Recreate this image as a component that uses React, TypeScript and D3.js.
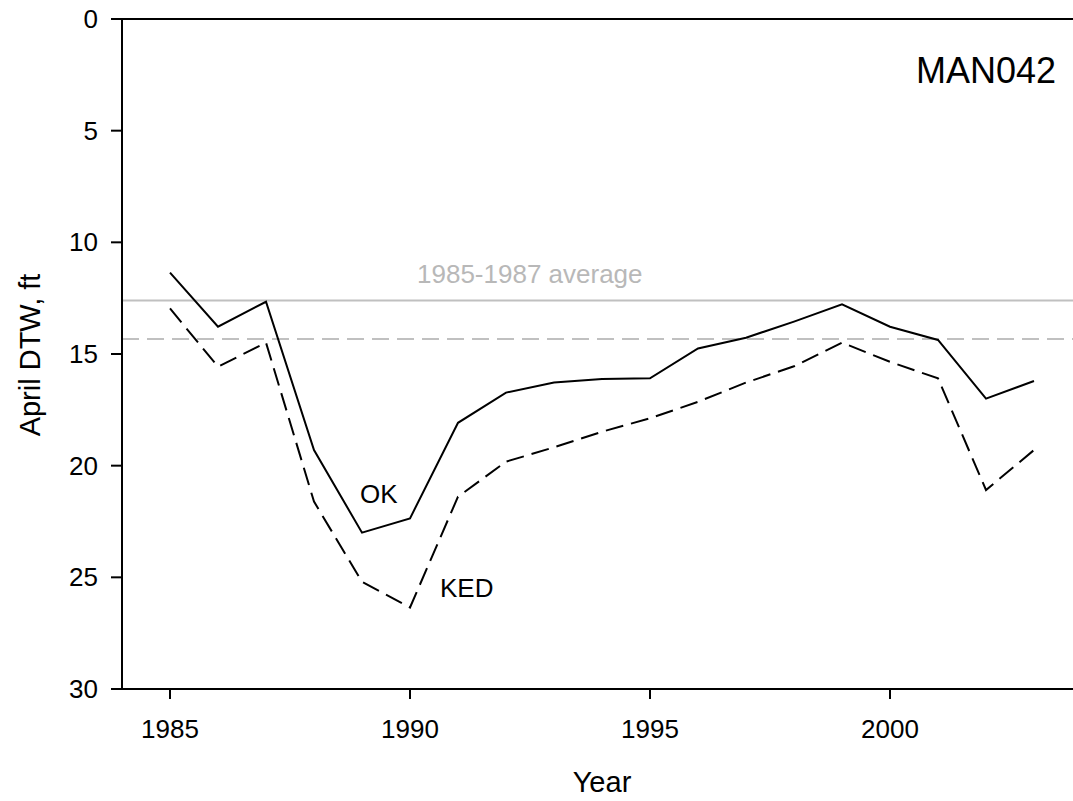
import React, { useEffect, useRef } from "react";
import * as d3 from "d3";

const years = [1985, 1986, 1987, 1988, 1989, 1990, 1991, 1992, 1993, 1994, 1995, 1996, 1997, 1998, 1999, 2000, 2001, 2002, 2003];
const okValues = [11.36, 13.78, 12.66, 19.3, 23.0, 22.36, 18.08, 16.73, 16.28, 16.12, 16.09, 14.75, 14.27, 13.55, 12.78, 13.78, 14.37, 17.0, 16.21];
const kedValues = [12.96, 15.57, 14.49, 21.61, 25.2, 26.35, 21.39, 19.82, 19.18, 18.48, 17.88, 17.14, 16.28, 15.55, 14.49, 15.35, 16.09, 21.09, 19.3];
const okAverage = 12.61;
const kedAverage = 14.33;
const xTicks = [1985, 1990, 1995, 2000];
const yTicks = [0, 5, 10, 15, 20, 25, 30];

const W = 1073;
const H = 801;
const FONT = "Liberation Sans, Arial, sans-serif";

export default function App() {
  const ref = useRef<SVGSVGElement>(null);

  useEffect(() => {
    const svg = d3.select(ref.current);
    svg.selectAll("*").remove();

    const x = d3.scaleLinear().domain([1984, 2004]).range([122, 1082]);
    const y = d3.scaleLinear().domain([0, 30]).range([19, 689]);

    // reference lines
    svg.append("line")
      .attr("x1", x(1984)).attr("x2", W)
      .attr("y1", y(okAverage)).attr("y2", y(okAverage))
      .attr("stroke", "#c0c0c0").attr("stroke-width", 2);
    svg.append("line")
      .attr("x1", x(1984)).attr("x2", W)
      .attr("y1", y(kedAverage)).attr("y2", y(kedAverage))
      .attr("stroke", "#c0c0c0").attr("stroke-width", 2)
      .attr("stroke-dasharray", "17,8");

    svg.append("text")
      .attr("x", 417).attr("y", 283)
      .attr("font-family", FONT).attr("font-size", 26)
      .attr("fill", "#b8b8b8")
      .text("1985-1987 average");

    const line = d3.line<number>()
      .x((_, i) => x(years[i]))
      .y((d) => y(d));

    svg.append("path")
      .attr("d", line(okValues) as string)
      .attr("fill", "none").attr("stroke", "#000").attr("stroke-width", 2);
    svg.append("path")
      .attr("d", line(kedValues) as string)
      .attr("fill", "none").attr("stroke", "#000").attr("stroke-width", 2)
      .attr("stroke-dasharray", "18,8");

    // axes
    const g = svg.append("g").attr("stroke", "#000").attr("stroke-width", 2);
    g.append("line").attr("x1", 122).attr("x2", 122).attr("y1", y(0)).attr("y2", y(30));
    g.append("line").attr("x1", 122).attr("x2", W).attr("y1", y(0)).attr("y2", y(0));
    g.append("line").attr("x1", 122).attr("x2", W).attr("y1", y(30)).attr("y2", y(30));

    yTicks.forEach((t) => {
      g.append("line").attr("x1", 111).attr("x2", 122).attr("y1", y(t)).attr("y2", y(t));
      svg.append("text")
        .attr("x", 98).attr("y", y(t))
        .attr("dy", "0.35em")
        .attr("text-anchor", "end")
        .attr("font-family", FONT).attr("font-size", 26)
        .text(String(t));
    });
    xTicks.forEach((t) => {
      g.append("line").attr("x1", x(t)).attr("x2", x(t)).attr("y1", y(30)).attr("y2", y(30) + 10);
      svg.append("text")
        .attr("x", x(t)).attr("y", 738)
        .attr("text-anchor", "middle")
        .attr("font-family", FONT).attr("font-size", 26)
        .text(String(t));
    });

    svg.append("text")
      .attr("x", 602).attr("y", 792)
      .attr("text-anchor", "middle")
      .attr("font-family", FONT).attr("font-size", 29)
      .text("Year");

    svg.append("text")
      .attr("transform", "translate(40,355) rotate(-90)")
      .attr("text-anchor", "middle")
      .attr("font-family", FONT).attr("font-size", 29)
      .text("April DTW, ft");

    svg.append("text")
      .attr("x", 1056).attr("y", 83)
      .attr("text-anchor", "end")
      .attr("font-family", FONT).attr("font-size", 36)
      .text("MAN042");

    svg.append("text")
      .attr("x", 360).attr("y", 503)
      .attr("font-family", FONT).attr("font-size", 26)
      .text("OK");
    svg.append("text")
      .attr("x", 440).attr("y", 597)
      .attr("font-family", FONT).attr("font-size", 26)
      .text("KED");
  }, []);

  return (
    <svg
      ref={ref}
      width={W}
      height={H}
      style={{ position: "absolute", left: 0, top: 0, background: "#fff" }}
    />
  );
}
